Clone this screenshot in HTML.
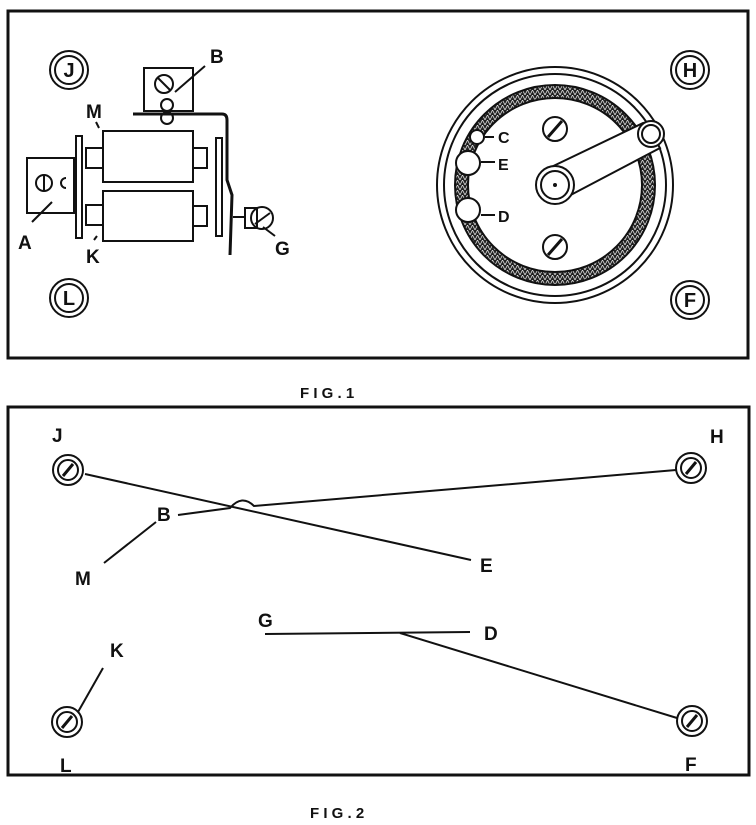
<!DOCTYPE html>
<html><head><meta charset="utf-8"><style>
html,body{margin:0;padding:0;background:#fff;}
svg{display:block}
text{font-family:"Liberation Sans",sans-serif;font-weight:bold;fill:#111}
</style></head><body>
<svg width="756" height="825" viewBox="0 0 756 825" xmlns="http://www.w3.org/2000/svg">
<defs>
<pattern id="zz" width="5" height="5" patternUnits="userSpaceOnUse">
<rect width="5" height="5" fill="#222"/>
<path d="M0 5 L2.5 0 L5 5" stroke="#ddd" stroke-width="0.8" fill="none"/>
</pattern>
</defs>
<g stroke="#111" fill="none" stroke-width="2">
<rect x="8" y="11" width="740" height="347" stroke-width="3"/>
<circle cx="69" cy="70" r="19"/><circle cx="69" cy="70" r="14"/>
<circle cx="69" cy="298" r="19"/><circle cx="69" cy="298" r="14"/>
<circle cx="690" cy="70" r="19"/><circle cx="690" cy="70" r="14"/>
<circle cx="690" cy="300" r="19"/><circle cx="690" cy="300" r="14"/>
<rect x="144" y="68" width="49" height="43"/>
<circle cx="164" cy="84" r="9"/><line x1="158" y1="78" x2="170" y2="90"/>
<line x1="175" y1="92" x2="205" y2="66"/>
<circle cx="167" cy="105" r="6"/>
<path d="M133 114 L222 114 Q227 114 227 120 L227 180 L232 195 L230 255" stroke-width="3"/>
<circle cx="167" cy="118" r="6"/>
<rect x="103" y="131" width="90" height="51" fill="#fff"/>
<rect x="103" y="191" width="90" height="50" fill="#fff"/>
<rect x="86" y="148" width="17" height="20"/>
<rect x="86" y="205" width="17" height="20"/>
<rect x="193" y="148" width="14" height="20"/>
<rect x="193" y="206" width="14" height="20"/>
<rect x="76" y="136" width="6" height="102"/>
<rect x="27" y="158" width="47" height="55"/>
<circle cx="44" cy="183" r="8"/><line x1="44" y1="175" x2="44" y2="191"/>
<path d="M66 178 a5 5 0 0 0 0 10"/>
<line x1="32" y1="222" x2="52" y2="202"/>
<rect x="216" y="138" width="6" height="98"/>
<rect x="245" y="208" width="12" height="20"/>
<circle cx="262" cy="218" r="11"/>
<line x1="233" y1="217" x2="245" y2="217"/>
<line x1="255" y1="224" x2="270" y2="213"/>
<line x1="263" y1="227" x2="275" y2="236"/>
<line x1="96" y1="122" x2="99" y2="128"/>
<line x1="94" y1="240" x2="97" y2="236"/>
<circle cx="555" cy="185" r="118"/>
<circle cx="555" cy="185" r="111"/>
<circle cx="555" cy="185" r="94" stroke="url(#zz)" stroke-width="13"/>
<circle cx="555" cy="185" r="87"/>
<circle cx="555" cy="185" r="100"/>
<circle cx="555" cy="129" r="12" fill="#fff"/><line x1="548" y1="137" x2="562" y2="121" stroke-width="3"/>
<circle cx="555" cy="247" r="12" fill="#fff"/><line x1="548" y1="255" x2="562" y2="239" stroke-width="3"/>
<circle cx="477" cy="137" r="7" fill="#fff"/>
<circle cx="468" cy="163" r="12" fill="#fff"/>
<circle cx="468" cy="210" r="12" fill="#fff"/>
<line x1="485" y1="137" x2="494" y2="137"/>
<line x1="481" y1="162" x2="495" y2="162"/>
<line x1="481" y1="215" x2="495" y2="215"/>
<path d="M545 170 L643 123 L660 148 L565 198 Z" fill="#fff"/>
<circle cx="555" cy="185" r="19" fill="#fff"/>
<circle cx="555" cy="185" r="14"/>
<circle cx="555" cy="185" r="1" fill="#111"/>
<circle cx="651" cy="134" r="13" fill="#fff"/>
<circle cx="651" cy="134" r="9"/>
<rect x="8" y="407" width="741" height="368" stroke-width="3"/>
<circle cx="68" cy="470" r="15"/><circle cx="68" cy="470" r="10"/><line x1="63" y1="476" x2="73" y2="464" stroke-width="3"/>
<circle cx="691" cy="468" r="15"/><circle cx="691" cy="468" r="10"/><line x1="686" y1="474" x2="696" y2="462" stroke-width="3"/>
<circle cx="67" cy="722" r="15"/><circle cx="67" cy="722" r="10"/><line x1="62" y1="728" x2="72" y2="716" stroke-width="3"/>
<circle cx="692" cy="721" r="15"/><circle cx="692" cy="721" r="10"/><line x1="687" y1="727" x2="697" y2="715" stroke-width="3"/>
<line x1="85" y1="474" x2="471" y2="560"/>
<path d="M178 515 L230 508 Q242 494 254 506 L676 470"/>
<line x1="104" y1="563" x2="156" y2="522"/>
<line x1="265" y1="634" x2="470" y2="632"/>
<line x1="400" y1="633" x2="677" y2="718"/>
<line x1="78" y1="712" x2="103" y2="668"/>
</g>
<g font-size="19">
<text x="69" y="77" font-size="20" text-anchor="middle">J</text>
<text x="69" y="305" font-size="20" text-anchor="middle">L</text>
<text x="690" y="77" font-size="20" text-anchor="middle">H</text>
<text x="690" y="307" font-size="20" text-anchor="middle">F</text>
<text x="210" y="63">B</text>
<text x="86" y="118">M</text>
<text x="18" y="249">A</text>
<text x="86" y="263">K</text>
<text x="275" y="255">G</text>
<text x="498" y="143" font-size="16">C</text>
<text x="498" y="170" font-size="16">E</text>
<text x="498" y="222" font-size="16">D</text>
<text x="300" y="398" font-size="15">F I G . 1</text>
<text x="52" y="442">J</text>
<text x="710" y="443">H</text>
<text x="157" y="521">B</text>
<text x="75" y="585">M</text>
<text x="480" y="572">E</text>
<text x="258" y="627">G</text>
<text x="484" y="640">D</text>
<text x="110" y="657">K</text>
<text x="60" y="772">L</text>
<text x="685" y="771">F</text>
<text x="310" y="818" font-size="15">F I G . 2</text>
</g>
</svg>
</body></html>
